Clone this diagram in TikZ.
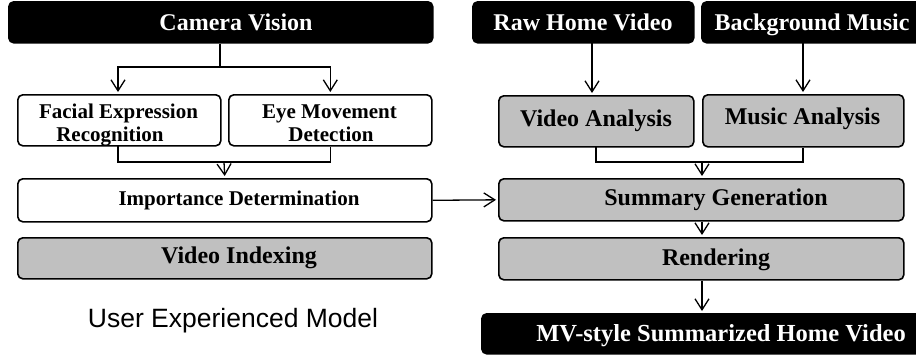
\documentclass[tikz,border=0pt]{standalone}
\usepackage{fontspec}
\setmainfont{Liberation Serif}
\newfontfamily\sansfont{Liberation Sans}
\usetikzlibrary{arrows.meta}
\begin{document}
\begin{tikzpicture}[x=1pt,y=-1pt,
  boxbase/.style={draw=black,line width=1.6pt,rounded corners=5pt,inner sep=0pt,anchor=north west},
  blackbox/.style={boxbase,fill=black},
  whitebox/.style={boxbase,fill=white},
  graybox/.style={boxbase,fill=gray!50!white,fill={rgb,255:red,192;green,192;blue,192}},
  txt/.style={font=\bfseries\fontsize{24}{24}\selectfont,anchor=base,inner sep=0pt},
  smalltxt/.style={font=\bfseries\fontsize{21}{21}\selectfont,anchor=base,inner sep=0pt},
  wtxt/.style={txt,text=white},
  conn/.style={line width=1.3pt},
  arr/.style={conn,-{Straight Barb[length=11pt,width=14pt,line width=1.3pt]},shorten >=2pt}
]
\clip (0,0) rectangle (916,354);
\fill[white] (0,0) rectangle (916,354);

% top black boxes
\node[blackbox,minimum width=424,minimum height=41] (cv) at (8,1) {};
\node[wtxt] (cvt) at (236,30.5) {Camera Vision};
\node[blackbox,minimum width=221,minimum height=41] (raw) at (472,1) {};
\node[wtxt] (rawt) at (583,30.5) {Raw Home Video};
\node[blackbox,minimum width=222,minimum height=41] (bgm) at (701,1) {};
\node[wtxt] (bgmt) at (812,30.5) {Background Music};

% second row
\node[whitebox,minimum width=203,minimum height=51] (facial) at (17,94) {};
\node[whitebox,minimum width=203,minimum height=51] (eye) at (228,94) {};
\begin{scope}
  \clip (facial.north west) rectangle ([yshift=-1.5pt]facial.south east);
  \node[smalltxt] (ft1) at (118.5,118.3) {Facial Expression};
  \node[smalltxt] (ft2) at (110,141.7) {Recognition};
\end{scope}
\begin{scope}
  \clip (eye.north west) rectangle ([yshift=-1.5pt]eye.south east);
  \node[smalltxt] (et1) at (329.5,118.3) {Eye Movement};
  \node[smalltxt] (et2) at (331,141.7) {Detection};
\end{scope}
\node[graybox,minimum width=195,minimum height=51] (va) at (498,95) {};
\node[txt] (vat) at (596,126.7) {Video Analysis};
\node[graybox,minimum width=201,minimum height=52] (ma) at (702,94) {};
\node[txt] (mat) at (802.5,124) {Music Analysis};

% third row
\node[whitebox,minimum width=414,minimum height=43] (imp) at (17,178) {};
\node[smalltxt] (impt) at (239,205) {Importance Determination};
\node[graybox,minimum width=405,minimum height=42] (sg) at (498,178) {};
\node[txt] (sgt) at (716,205) {Summary Generation};

% fourth row
\node[graybox,minimum width=414,minimum height=41] (vi) at (17,237) {};
\node[txt] (vit) at (239,263.3) {Video Indexing};
\node[graybox,minimum width=405,minimum height=42] (rd) at (498,237) {};
\node[txt] (rdt) at (716,265) {Rendering};

% bottom
\node[font=\sansfont\fontsize{26.5}{26.5}\selectfont,anchor=base,inner sep=0pt] (uem) at (233,327) {User Experienced Model};
\node[blackbox,minimum width=442,minimum height=40] (mv) at (481,313) {};
\node[wtxt,font=\bfseries\fontsize{24.5}{24.5}\selectfont] (mvt) at (721,341.7) {MV-style Summarized Home Video};

% connectors left
\coordinate (j1) at (220,67);
\draw[conn] (cv.south -| j1) -- (j1);
\draw[arr] (j1) -| (118,94);
\draw[arr] (j1) -| (eye.north);
\coordinate (j2) at (224,162);
\draw[conn] (118,145) |- (j2) -| (eye.south);
\draw[arr] (j2) -- (imp.north);

% connectors right
\coordinate (r1) at (592,42);
\draw[arr] (r1) -- (r1 |- va.north);
\coordinate (b1) at (803,42);
\draw[arr] (b1) -- (b1 |- ma.north);
\coordinate (j3) at (702,162);
\draw[conn] (596,146) |- (j3) -| (b1 |- ma.south);
\draw[arr] (j3) -- (j3 |- sg.north);
\draw[arr] (imp.east) -- (sg.west);
\draw[arr] (j3 |- sg.south) -- (j3 |- rd.north);
\draw[arr] (j3 |- rd.south) -- (j3 |- mv.north);
\end{tikzpicture}
\end{document}
